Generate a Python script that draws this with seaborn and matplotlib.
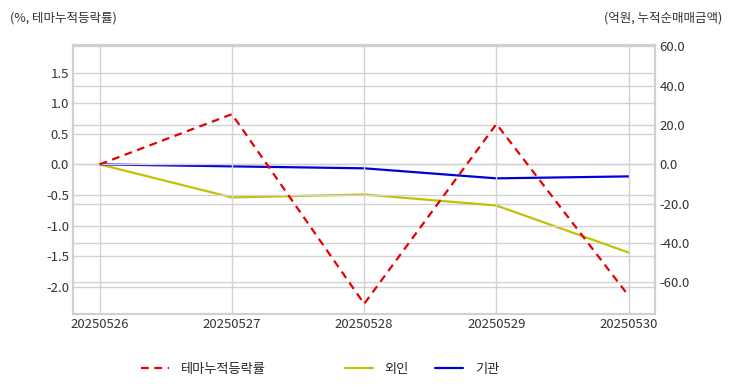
import pandas as pd
import matplotlib.pyplot as plt
import seaborn as sns
from matplotlib.lines import Line2D

# data
dates = ["20250526", "20250527", "20250528", "20250529", "20250530"]
theme_rate = [0.0, 0.82, -2.28, 0.66, -2.15]      # %, left axis
foreign_net = [0.0, -16.8, -15.3, -20.9, -44.8]   # 억원, right axis
inst_net = [0.0, -1.0, -2.0, -7.1, -6.1]          # 억원, right axis

left_ticks = [-2.0, -1.5, -1.0, -0.5, 0.0, 0.5, 1.0, 1.5]
right_ticks = [-60, -40, -20, 0, 20, 40, 60]

df = pd.DataFrame({"date": dates, "theme": theme_rate,
                   "foreign": foreign_net, "inst": inst_net})

sns.set_theme(style="whitegrid")
plt.rcParams["font.family"] = ["Noto Sans CJK KR", "DejaVu Sans"]
plt.rcParams["axes.unicode_minus"] = False

fig, ax = plt.subplots(figsize=(7.32, 3.92), dpi=100)
fig.subplots_adjust(left=0.1, right=0.895, top=0.885, bottom=0.2)
ax2 = ax.twinx()

red, olive, blue = "#e60000", "#c2c200", "#0000d8"
sns.lineplot(data=df, x="date", y="theme", ax=ax, color=red, lw=1.6,
             linestyle=(0, (3.5, 2.5)), sort=False)
sns.lineplot(data=df, x="date", y="foreign", ax=ax2, color=olive, lw=1.6, sort=False)
sns.lineplot(data=df, x="date", y="inst", ax=ax2, color=blue, lw=1.6, sort=False)

ax.set_xlim(-0.2, 4.2)
ax.set_ylim(-2.44, 1.95)
ax2.set_ylim(-75.8, 60.6)
ax.set_yticks(left_ticks)
ax.set_yticklabels([f"{v:.1f}" for v in left_ticks])
ax2.set_yticks(right_ticks)
ax2.set_yticklabels([f"{v:.1f}" for v in right_ticks])

grid_col = "#d2d2d2"
for a in (ax, ax2):
    a.set_xlabel("")
    a.set_ylabel("")
    a.grid(True, color=grid_col, lw=1)
    a.tick_params(axis="both", labelsize=9.5, colors="#333333", length=0, pad=3)
    for s in a.spines.values():
        s.set_color("#d0d0d0")
        s.set_linewidth(1.5)
ax2.grid(axis="x", visible=False)
ax.set_zorder(ax2.get_zorder() + 1)
ax.patch.set_visible(False)

fig.text(0.014, 0.955, "(%, 테마누적등락률)", fontsize=9, color="#333333", va="center")
fig.text(0.986, 0.955, "(억원, 누적순매매금액)", fontsize=9, color="#333333",
         va="center", ha="right")

h1 = [Line2D([], [], color=red, lw=1.6, linestyle=(0, (3.5, 2.5)))]
h2 = [Line2D([], [], color=olive, lw=1.6), Line2D([], [], color=blue, lw=1.6)]
fig.legend(h1, ["테마누적등락률"], loc="center left", bbox_to_anchor=(0.177, 0.058),
           frameon=False, fontsize=9.5, handlelength=2.1, handletextpad=0.9)
fig.legend(h2, ["외인", "기관"], loc="center left", bbox_to_anchor=(0.455, 0.058),
           ncol=2, frameon=False, fontsize=9.5, handlelength=2.1, handletextpad=0.9,
           columnspacing=2.0)

fig.savefig("out.png", dpi=100)
